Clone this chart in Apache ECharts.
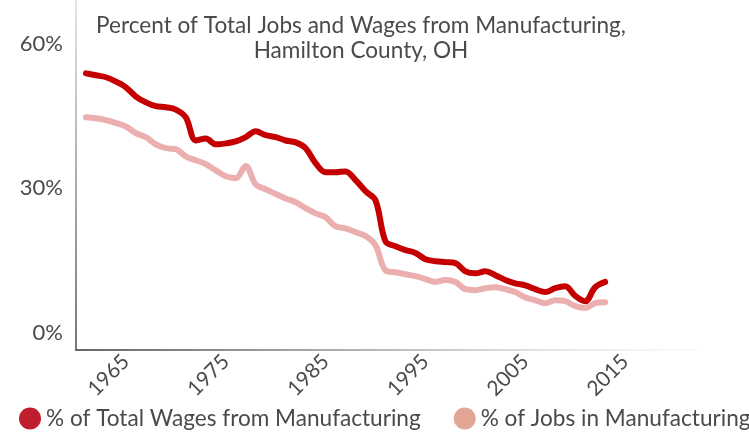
<!DOCTYPE html>
<html>
<head>
<meta charset="utf-8">
<script src="https://cdn.jsdelivr.net/npm/echarts@6/dist/echarts.min.js"></script>
<style>
html,body{margin:0;padding:0;background:#fff;}
#chart{width:749px;height:434px;}
</style>
</head>
<body>
<div id="chart"></div>
<script>
var years = [1961,1962,1963,1964,1965,1966,1967,1968,1969,1970,
             1971,1972,1973,1974,1975,1976,1977,1978,1979,1980,
             1981,1982,1983,1984,1985,1986,1987,1988,1989,1990,
             1991,1992,1993,1994,1995,1996,1997,1998,1999,2000,
             2001,2002,2003,2004,2005,2006,2007,2008,2009,2010,
             2011,2012,2013];
var wages = [53.8,53.4,53.0,52.1,50.9,49.0,47.8,47.0,46.8,46.3,
             44.7,39.9,40.3,39.1,39.3,39.7,40.6,41.8,41.0,40.6,
             39.9,39.5,38.3,35.2,33.3,33.3,33.5,31.7,29.4,27.5,
             19.0,18.0,17.2,16.6,15.3,14.9,14.7,14.5,12.8,12.4,
             12.8,12.0,11.0,10.3,9.9,9.1,8.5,9.3,9.7,7.7,
             6.6,9.5,10.6];
var jobs = [44.7,44.5,44.1,43.5,42.8,41.4,40.6,39.1,38.3,38.1,
            36.6,35.8,35.0,33.7,32.5,32.1,34.6,30.8,29.8,28.8,
            27.9,27.1,25.9,24.8,24.0,22.1,21.7,20.9,20.1,18.2,
            13.0,12.6,12.2,11.8,11.2,10.6,11.0,10.6,9.1,8.9,
            9.3,9.5,9.1,8.5,7.4,6.8,6.2,6.8,6.6,5.6,
            5.2,6.2,6.4];
var xTickLabels = [1965,1975,1985,1995,2005,2015];
var yTickLabels = [0,30,60];
var titleText = 'Percent of Total Jobs and Wages from Manufacturing,\nHamilton County, OH';
var wagesName = '% of Total Wages from Manufacturing';
var jobsName = '% of Jobs in Manufacturing';

function pairs(xs, ys){ return xs.map(function(x,i){ return [x, ys[i]]; }); }

var chart = echarts.init(document.getElementById('chart'), null, {renderer:'canvas'});
var FONT = 'Lato';
chart.setOption({
  animation:false,
  backgroundColor:'#fff',
  title:{
    text: titleText,
    left: 356, top: 8, textAlign:'center',
    textStyle:{fontFamily:FONT, fontSize:22.6, fontWeight:'normal', color:'#4a4a4a', lineHeight:25}
  },
  legend:{
    left: 19, bottom: 4, width: 760, padding: 0,
    icon:'circle', itemWidth:22, itemHeight:22, itemGap:33,
    textStyle:{fontFamily:FONT, fontSize:22.6, color:'#4a4a4a'},
    data:[
      {name: wagesName, itemStyle:{color:'#be1e2d'}},
      {name: jobsName, itemStyle:{color:'#e2a695'}}
    ]
  },
  grid:{left:76, right:49, top:0, bottom:84, containLabel:false},
  xAxis:{
    type:'value', min:1960, max:2022.5,
    splitLine:{show:false},
    axisTick:{show:false},
    axisLine:{show:true, onZero:false, lineStyle:{width:2, color:new echarts.graphic.LinearGradient(0,0,1,0,[
      {offset:0,color:'#666'},{offset:0.6,color:'#cccccc'},{offset:1,color:'rgba(240,240,240,0.3)'}])}},
    axisLabel:{
      customValues: xTickLabels,
      rotate:45, margin:8,
      fontFamily:FONT, fontSize:21, color:'#4a4a4a',
      formatter:function(v){ return String(v); }
    }
  },
  yAxis:{
    type:'value', min:-3.5, max:69,
    splitLine:{show:false},
    axisTick:{show:false},
    axisLine:{show:true, onZero:false, lineStyle:{width:2, color:new echarts.graphic.LinearGradient(0,0,0,1,[
      {offset:0,color:'#e6e6e6'},{offset:1,color:'#777'}])}},
    axisLabel:{
      customValues: yTickLabels,
      margin:13,
      fontFamily:FONT, fontSize:22, color:'#4a4a4a',
      formatter:function(v){ return v + '%'; }
    }
  },
  series:[
    {
      name: jobsName, type:'line', data: pairs(years, jobs),
      smooth:0.35, showSymbol:false, symbol:'none',
      lineStyle:{width:6, color:'#ebafaf', cap:'round', join:'round'},
      itemStyle:{color:'#e2a695'}
    },
    {
      name: wagesName, type:'line', data: pairs(years, wages),
      smooth:0.35, showSymbol:false, symbol:'none',
      lineStyle:{width:6, color:'#c40000', cap:'round', join:'round'},
      itemStyle:{color:'#be1e2d'}
    }
  ]
});
</script>
</body>
</html>
